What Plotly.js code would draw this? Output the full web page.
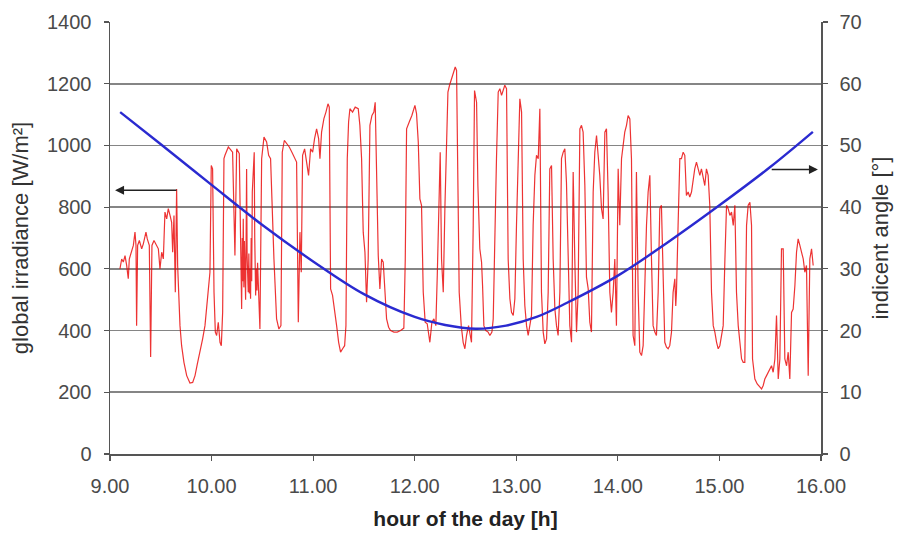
<!DOCTYPE html>
<html>
<head>
<meta charset="utf-8">
<script src="https://cdn.plot.ly/plotly-3.0.1.min.js"></script>
<style>html,body{margin:0;padding:0;background:#fff;}#chart{width:897px;height:535px;}</style>
</head>
<body>
<div id="chart"></div>
<script>
// Global irradiance readings [hour, W/m²], grouped by stretch of the day
const irr0910 = [[9.098,600],[9.115,632],[9.131,622],[9.148,643],[9.164,611],[9.180,568],[9.190,632],[9.213,654],[9.230,676],[9.246,719],[9.256,676],[9.262,416],[9.272,676],[9.289,692],[9.312,665],[9.328,681],[9.354,719],[9.367,697],[9.387,676],[9.400,314],[9.413,676],[9.433,692],[9.453,681],[9.476,665],[9.492,600],[9.509,654],[9.525,632],[9.541,784],[9.558,762],[9.574,795],[9.591,773],[9.607,751],[9.617,654],[9.630,773],[9.643,524],[9.656,859],[9.666,611],[9.676,524],[9.689,416],[9.705,351],[9.728,297],[9.755,254],[9.787,230],[9.814,232],[9.837,254],[9.860,292],[9.886,330],[9.912,373],[9.935,416],[9.951,481],[9.971,546],[9.984,589],[9.997,935],[10.010,924],[10.024,524],[10.037,395],[10.050,384],[10.066,427],[10.083,362],[10.096,351],[10.109,459],[10.122,957],[10.132,968],[10.148,984],[10.165,995]];
const irr1011 = [[10.181,989],[10.207,978],[10.230,643],[10.247,989],[10.273,973],[10.296,470],[10.302,700],[10.307,560],[10.312,762],[10.318,540],[10.323,690],[10.329,611],[10.335,500],[10.340,700],[10.345,924],[10.350,640],[10.356,560],[10.361,524],[10.367,650],[10.372,520],[10.378,600],[10.384,503],[10.390,700],[10.395,560],[10.401,849],[10.410,900],[10.420,978],[10.425,700],[10.430,580],[10.434,514],[10.440,600],[10.447,530],[10.453,620],[10.460,524],[10.468,480],[10.476,405],[10.493,957],[10.516,1027],[10.542,1011],[10.562,968],[10.581,957],[10.598,784],[10.614,632],[10.640,438],[10.663,405],[10.683,416],[10.696,978],[10.716,1016],[10.739,1005],[10.765,995],[10.791,978],[10.821,957],[10.837,946],[10.854,427],[10.870,719],[10.883,589],[10.896,968],[10.916,989],[10.936,935],[10.955,903],[10.975,989],[10.995,978],[11.014,1022],[11.034,1054],[11.054,1022],[11.067,957],[11.083,1043],[11.106,1087],[11.126,1108],[11.146,1135],[11.159,1124],[11.172,535],[11.191,514],[11.211,470],[11.231,416],[11.251,362],[11.270,330],[11.290,341],[11.310,351],[11.323,416],[11.336,957],[11.349,1076]];
const irr1112 = [[11.362,1119],[11.388,1108],[11.414,1124],[11.444,1119],[11.460,1065],[11.477,957],[11.493,719],[11.510,654],[11.526,492],[11.542,632],[11.559,1065],[11.579,1097],[11.598,1108],[11.611,1140],[11.624,957],[11.641,643],[11.657,535],[11.674,632],[11.690,622],[11.706,524],[11.723,438],[11.743,411],[11.762,400],[11.795,395],[11.828,395],[11.861,400],[11.893,408],[11.907,632],[11.920,1054],[11.946,1076],[11.972,1097],[12.002,1130],[12.018,1103],[12.035,1011],[12.051,827],[12.067,806],[12.084,524],[12.103,427],[12.123,422],[12.149,362],[12.169,427],[12.189,438],[12.208,416],[12.222,578],[12.238,827],[12.251,978],[12.264,632],[12.281,524],[12.297,795],[12.313,1011],[12.327,1173],[12.343,1195],[12.363,1216],[12.379,1238],[12.399,1254],[12.412,1243],[12.425,870],[12.438,524],[12.458,416],[12.477,362],[12.494,341],[12.510,384],[12.530,416]];
const irr1213 = [[12.543,395],[12.559,362],[12.576,741],[12.589,1178],[12.609,1140],[12.622,870],[12.641,665],[12.658,622],[12.668,546],[12.681,416],[12.700,400],[12.723,395],[12.740,384],[12.760,395],[12.773,438],[12.789,741],[12.805,957],[12.822,1173],[12.838,1184],[12.855,1162],[12.871,1178],[12.887,1195],[12.904,1184],[12.920,632],[12.937,503],[12.953,459],[12.970,449],[12.986,503],[13.002,741],[13.019,957],[13.035,1151],[13.052,1108],[13.068,632],[13.084,481],[13.101,416],[13.117,384],[13.134,427],[13.150,449],[13.166,741],[13.183,903],[13.199,968],[13.216,957],[13.232,1119],[13.248,524],[13.265,395],[13.281,357],[13.298,373],[13.314,524],[13.330,924],[13.347,935],[13.363,632],[13.380,470],[13.396,416],[13.412,384],[13.429,524],[13.445,957],[13.462,978],[13.478,989],[13.494,881],[13.511,632],[13.527,416],[13.544,362],[13.560,914],[13.576,632],[13.593,395],[13.609,524],[13.626,1054],[13.642,1065],[13.658,1043],[13.675,870],[13.691,573],[13.708,535]];
const irr1315 = [[13.724,427],[13.740,395],[13.757,849],[13.773,978],[13.790,1032],[13.806,968],[13.822,903],[13.839,795],[13.855,762],[13.872,1043],[13.888,1054],[13.904,849],[13.921,524],[13.937,459],[13.954,524],[13.970,632],[13.986,416],[14.003,924],[14.019,741],[14.036,957],[14.052,1011],[14.068,1043],[14.085,1065],[14.101,1097],[14.118,1086],[14.134,957],[14.150,384],[14.167,351],[14.183,914],[14.200,524],[14.216,330],[14.233,319],[14.249,351],[14.265,578],[14.282,741],[14.298,849],[14.315,903],[14.331,632],[14.347,416],[14.364,395],[14.380,384],[14.397,524],[14.413,795],[14.429,806],[14.446,524],[14.462,362],[14.479,346],[14.495,341],[14.511,351],[14.528,395],[14.544,524],[14.561,568],[14.570,480],[14.577,524],[14.593,741],[14.610,957],[14.626,957],[14.643,978],[14.659,968],[14.675,838],[14.692,849],[14.708,833],[14.725,849],[14.741,892],[14.757,924],[14.774,946],[14.790,924],[14.807,903],[14.823,924],[14.839,892],[14.856,870],[14.872,924],[14.889,903],[14.905,806]];
const irr1516 = [[14.922,524],[14.939,416],[14.955,395],[14.972,362],[14.988,341],[15.004,351],[15.021,384],[15.037,416],[15.054,632],[15.070,806],[15.086,795],[15.103,773],[15.119,784],[15.136,741],[15.152,806],[15.168,524],[15.185,416],[15.201,362],[15.218,308],[15.234,297],[15.250,297],[15.267,741],[15.283,806],[15.300,816],[15.316,741],[15.326,308],[15.349,243],[15.372,227],[15.398,216],[15.415,211],[15.431,222],[15.447,243],[15.464,254],[15.480,265],[15.497,276],[15.513,286],[15.529,265],[15.546,308],[15.562,449],[15.579,243],[15.595,308],[15.611,665],[15.628,665],[15.644,308],[15.661,286],[15.677,330],[15.693,243],[15.710,459],[15.726,470],[15.743,546],[15.759,654],[15.775,697],[15.792,676],[15.808,654],[15.825,632],[15.841,589],[15.857,611],[15.874,254],[15.890,632],[15.907,665],[15.923,611]];

// Incident angle [°]
const angleHours = [9.10, 9.50, 10.00, 10.50, 11.00, 11.50, 12.00, 12.30, 12.60, 12.90, 13.20, 13.50, 14.00, 14.50, 15.00, 15.50, 15.92];
const angleDeg   = [55.4, 50.2, 43.6, 37.1, 31.2, 25.9, 22.2, 20.9, 20.3, 20.8, 22.2, 24.5, 28.9, 34.4, 40.3, 46.5, 52.2];

const xTickVals = [9, 10, 11, 12, 13, 14, 15, 16];
const xTickLabels = ['9.00', '10.00', '11.00', '12.00', '13.00', '14.00', '15.00', '16.00'];
const yTickVals = [0, 200, 400, 600, 800, 1000, 1200, 1400];
const y2TickVals = [0, 10, 20, 30, 40, 50, 60, 70];

const irrPoints = [].concat(irr0910, irr1011, irr1112, irr1213, irr1315, irr1516);

const FONT = 'Liberation Sans, Arial, sans-serif';
const axisGray = '#555';
const tickFont = {size: 20, color: '#4a4a4a', family: FONT};

const traces = [
  {
    x: irrPoints.map(p => p[0]),
    y: irrPoints.map(p => p[1]),
    type: 'scatter', mode: 'lines',
    line: {color: 'rgba(232,0,0,0.8)', width: 1.2},
    yaxis: 'y', hoverinfo: 'skip'
  },
  {
    x: angleHours, y: angleDeg,
    type: 'scatter', mode: 'lines', line: {shape: 'spline', smoothing: 1, color: '#2a2ad0', width: 2.4},
    yaxis: 'y2', hoverinfo: 'skip'
  }
];

const layout = {
  width: 897, height: 535,
  margin: {l: 110, r: 76, t: 22, b: 81},
  paper_bgcolor: '#fff', plot_bgcolor: '#fff',
  showlegend: false,
  font: {family: FONT, color: '#444', size: 20},
  xaxis: {
    range: [9, 16], tickvals: xTickVals, ticktext: xTickLabels,
    ticks: 'outside', ticklen: 5, tickcolor: axisGray, tickwidth: 1.2,
    showline: true, linecolor: axisGray, linewidth: 1.5,
    showgrid: false, zeroline: false, automargin: false,
    tickfont: tickFont, ticklabelstandoff: 8,
    title: {text: '<b>hour of the day [h]</b>', font: {size: 21, color: '#222'}, standoff: 16}
  },
  yaxis: {
    range: [0, 1400], tickvals: yTickVals,
    ticks: 'outside', ticklen: 5, tickcolor: axisGray, tickwidth: 1.2,
    showline: true, linecolor: axisGray, linewidth: 1.5,
    showgrid: true, gridcolor: '#858585', gridwidth: 1.6, zeroline: false, automargin: false,
    tickfont: tickFont, ticklabelstandoff: 8,
    title: {text: 'global irradiance [W/m²]', font: {size: 22, color: '#333'}, standoff: 12}
  },
  yaxis2: {
    overlaying: 'y', side: 'right', range: [0, 70], tickvals: y2TickVals,
    ticks: 'outside', ticklen: 5, tickcolor: axisGray, tickwidth: 1.2,
    showline: true, linecolor: axisGray, linewidth: 1.5,
    showgrid: false, zeroline: false, automargin: false,
    tickfont: tickFont, ticklabelstandoff: 8,
    title: {text: 'indicent angle [°]', font: {size: 22, color: '#333'}, standoff: 12}
  },
  annotations: [
    {x: 9.05, y: 855, xref: 'x', yref: 'y', ax: 9.67, ay: 855, axref: 'x', ayref: 'y',
     text: '', showarrow: true, arrowhead: 2, arrowsize: 1.2, arrowwidth: 1.5, arrowcolor: '#222'},
    {x: 15.97, y: 46.1, xref: 'x', yref: 'y2', ax: 15.50, ay: 46.1, axref: 'x', ayref: 'y2',
     text: '', showarrow: true, arrowhead: 2, arrowsize: 1.2, arrowwidth: 1.5, arrowcolor: '#222'}
  ]
};

Plotly.newPlot('chart', traces, layout, {staticPlot: true, displayModeBar: false});
</script>
</body>
</html>
